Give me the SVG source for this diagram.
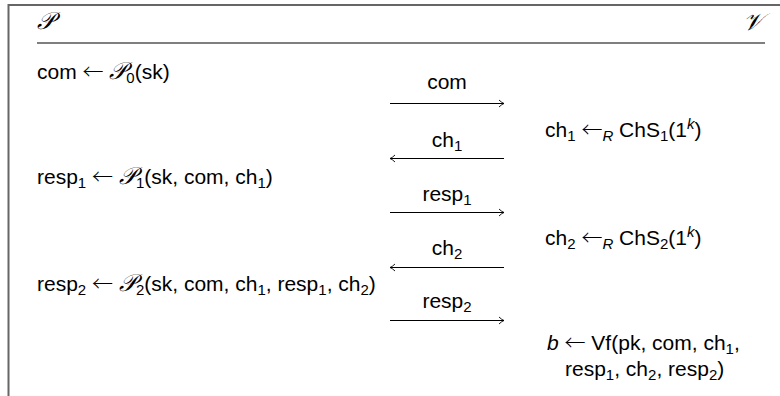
<svg xmlns="http://www.w3.org/2000/svg" width="780" height="396" viewBox="0 0 780 396">
<style>
text{font-family:"Liberation Sans","DejaVu Sans",sans-serif;font-size:21px;fill:#000}
.cal{font-family:"DejaVu Serif","Liberation Serif",serif;font-style:italic;font-size:24px}
.it{font-style:italic}
.ar{font-family:"Noto Sans CJK SC","DejaVu Sans",sans-serif;font-size:21px;font-weight:300}
.s{font-size:15px}
.frame{stroke:#666;stroke-width:2;fill:none}
.rule{stroke:#555;stroke-width:1.3;fill:none}
.arr{stroke:#000;stroke-width:1;fill:none;marker-end:url(#head)}
</style>
<defs>
<marker id="head" viewBox="-7 -5 8 10" refX="0" refY="0" markerWidth="8" markerHeight="10" markerUnits="userSpaceOnUse" orient="auto">
<path d="M-5,-3.5 Q-2,-0.6 0,0 Q-2,0.6 -5,3.5" stroke="#000" stroke-width="0.9" fill="none"/>
</marker>
</defs>
<rect width="780" height="396" fill="#fff"/>
<g id="frame">
<path class="frame" d="M8.5,396 V5 H780"/>
<line class="rule" x1="37" y1="43" x2="765" y2="43"/>
</g>
<g id="prover">
<text class="cal" x="37" y="29">𝒫</text>
<text x="37" y="79">com <tspan class="ar">←</tspan> <tspan class="cal">𝒫</tspan><tspan class="s" dy="4">0</tspan><tspan dy="-4">(sk)</tspan></text>
<text x="37" y="184">resp<tspan class="s" dy="4">1</tspan><tspan dy="-4"> </tspan><tspan class="ar">←</tspan> <tspan class="cal">𝒫</tspan><tspan class="s" dy="4">1</tspan><tspan dy="-4">(sk, com, ch</tspan><tspan class="s" dy="4">1</tspan><tspan dy="-4">)</tspan></text>
<text x="37" y="291">resp<tspan class="s" dy="4">2</tspan><tspan dy="-4"> </tspan><tspan class="ar">←</tspan> <tspan class="cal">𝒫</tspan><tspan class="s" dy="4">2</tspan><tspan dy="-4">(sk, com, ch</tspan><tspan class="s" dy="4">1</tspan><tspan dy="-4">, resp</tspan><tspan class="s" dy="4">1</tspan><tspan dy="-4">, ch</tspan><tspan class="s" dy="4">2</tspan><tspan dy="-4">)</tspan></text>
</g>
<g id="verifier">
<text class="cal" x="763" y="30" text-anchor="end">𝒱</text>
<text x="545" y="137">ch<tspan class="s" dy="4">1</tspan><tspan dy="-4"> </tspan><tspan class="ar">←</tspan><tspan class="it s" dy="4">R</tspan><tspan dy="-4"> ChS</tspan><tspan class="s" dy="4">1</tspan><tspan dy="-4">(1</tspan><tspan class="it s" dy="-8">k</tspan><tspan dy="8">)</tspan></text>
<text x="545" y="245">ch<tspan class="s" dy="4">2</tspan><tspan dy="-4"> </tspan><tspan class="ar">←</tspan><tspan class="it s" dy="4">R</tspan><tspan dy="-4"> ChS</tspan><tspan class="s" dy="4">2</tspan><tspan dy="-4">(1</tspan><tspan class="it s" dy="-8">k</tspan><tspan dy="8">)</tspan></text>
<text x="547" y="350"><tspan class="it">b</tspan> <tspan class="ar">←</tspan> Vf(pk, com, ch<tspan class="s" dy="4">1</tspan><tspan dy="-4">,</tspan></text>
<text x="565" y="376">resp<tspan class="s" dy="4">1</tspan><tspan dy="-4">, ch</tspan><tspan class="s" dy="4">2</tspan><tspan dy="-4">, resp</tspan><tspan class="s" dy="4">2</tspan><tspan dy="-4">)</tspan></text>
</g>
<g id="connectors">
<line class="arr" x1="390" y1="103.5" x2="504" y2="103.5"/>
<line class="arr" x1="504" y1="158.5" x2="390" y2="158.5"/>
<line class="arr" x1="390" y1="212.5" x2="504" y2="212.5"/>
<line class="arr" x1="504" y1="267.5" x2="390" y2="267.5"/>
<line class="arr" x1="390" y1="320.5" x2="504" y2="320.5"/>
<text x="447" y="89" text-anchor="middle">com</text>
<text x="447" y="147" text-anchor="middle">ch<tspan class="s" dy="4">1</tspan></text>
<text x="447" y="201" text-anchor="middle">resp<tspan class="s" dy="4">1</tspan></text>
<text x="447" y="255" text-anchor="middle">ch<tspan class="s" dy="4">2</tspan></text>
<text x="447" y="308" text-anchor="middle">resp<tspan class="s" dy="4">2</tspan></text>
</g>
</svg>
